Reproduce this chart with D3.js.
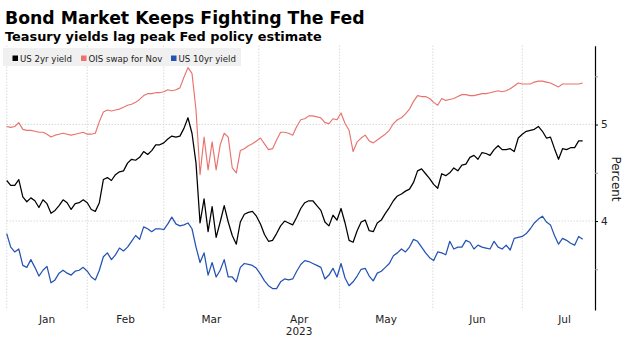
<!DOCTYPE html>
<html><head><meta charset="utf-8">
<script src="https://cdn.jsdelivr.net/npm/d3@7"></script>
<style>body{margin:0;background:#fff} svg{display:block}</style>
</head><body>
<svg id="chart" width="628" height="338"></svg>
<script>
// ---- data (one value per trading day, Jan 3 .. mid Jul 2023) ----
const us2y = [4.42,4.37,4.37,4.43,4.25,4.20,4.24,4.21,4.14,4.22,
4.18,4.08,4.11,4.16,4.22,4.19,4.12,4.18,4.19,4.22,
4.19,4.12,4.10,4.19,4.43,4.45,4.42,4.48,4.51,4.52,
4.60,4.64,4.63,4.66,4.72,4.69,4.73,4.79,4.79,4.81,
4.85,4.88,4.87,4.88,4.96,5.07,4.91,4.60,3.98,4.23,
3.89,4.15,3.83,3.99,4.16,3.99,3.85,3.76,3.99,4.07,
4.09,4.10,4.05,3.97,3.86,3.79,3.80,3.87,3.95,4.00,
3.98,3.96,4.04,4.13,4.19,4.21,4.21,4.16,4.11,3.99,
3.95,4.06,4.01,4.13,3.98,3.80,3.78,3.90,3.99,4.01,
3.90,3.89,3.98,4.01,4.08,4.14,4.21,4.26,4.28,4.31,
4.33,4.40,4.52,4.54,4.49,4.44,4.38,4.34,4.49,4.47,
4.50,4.55,4.52,4.58,4.59,4.66,4.68,4.64,4.71,4.70,
4.68,4.74,4.78,4.74,4.74,4.75,4.72,4.86,4.90,4.93,
4.94,4.95,4.98,4.93,4.86,4.87,4.75,4.64,4.75,4.74,
4.76,4.76,4.83,4.83];
const oisNov = [4.98,4.97,4.98,5.02,4.95,4.94,4.94,4.93,4.92,4.92,
4.90,4.87,4.89,4.90,4.91,4.90,4.89,4.90,4.91,4.92,
4.90,4.90,4.91,5.03,5.13,5.15,5.14,5.15,5.16,5.18,
5.20,5.21,5.23,5.26,5.30,5.32,5.32,5.33,5.33,5.34,
5.36,5.35,5.36,5.38,5.49,5.59,5.53,5.15,4.48,4.87,
4.53,4.82,4.53,4.79,4.91,4.87,4.55,4.50,4.73,4.75,
4.78,4.80,4.83,4.86,4.80,4.74,4.75,4.84,4.92,4.92,
4.91,4.89,4.98,5.05,5.06,5.09,5.09,5.08,5.07,5.02,
5.01,5.06,5.05,5.12,5.01,4.94,4.72,4.82,4.86,4.89,
4.83,4.81,4.84,4.87,4.90,4.94,5.01,5.05,5.07,5.11,
5.16,5.24,5.30,5.29,5.29,5.27,5.23,5.20,5.27,5.25,
5.26,5.27,5.29,5.31,5.31,5.30,5.30,5.31,5.32,5.32,
5.33,5.34,5.35,5.34,5.35,5.37,5.40,5.43,5.42,5.42,
5.42,5.44,5.45,5.45,5.44,5.43,5.41,5.39,5.42,5.42,
5.42,5.42,5.42,5.43];
const us10y = [3.87,3.73,3.68,3.71,3.54,3.52,3.60,3.52,3.43,3.49,
3.53,3.36,3.39,3.46,3.49,3.46,3.44,3.48,3.49,3.52,
3.48,3.42,3.39,3.49,3.63,3.67,3.60,3.65,3.72,3.69,
3.73,3.79,3.85,3.81,3.94,3.92,3.89,3.92,3.92,3.91,
3.97,4.04,3.97,3.95,3.96,3.98,3.92,3.73,3.57,3.67,
3.44,3.57,3.42,3.49,3.60,3.42,3.42,3.37,3.52,3.56,
3.55,3.54,3.51,3.45,3.38,3.33,3.30,3.30,3.37,3.40,
3.39,3.40,3.48,3.55,3.59,3.58,3.56,3.54,3.52,3.40,
3.44,3.51,3.42,3.56,3.41,3.33,3.37,3.43,3.50,3.51,
3.43,3.38,3.46,3.48,3.52,3.56,3.64,3.67,3.71,3.68,
3.73,3.81,3.79,3.73,3.67,3.62,3.59,3.68,3.67,3.65,
3.79,3.71,3.73,3.73,3.80,3.78,3.71,3.75,3.73,3.72,
3.71,3.79,3.73,3.71,3.75,3.70,3.82,3.83,3.84,3.87,
3.92,3.98,4.02,4.05,3.99,3.96,3.85,3.76,3.82,3.80,
3.77,3.75,3.84,3.81];
const monthNames = ["Jan","Feb","Mar","Apr","May","Jun","Jul"];
// trading-day index where each month begins (last entry = end of Jul)
const monthStartIdx = [0, 20, 39, 62.6, 82.6, 105.8, 128, 149];
const yearLabel = "2023";
const majorTicks = [4, 5];
const minorTicks = [3.5, 4.5, 5.5];
const seriesNames = ["US 2yr yield", "OIS swap for Nov", "US 10yr yield"];
const titleText = "Bond Market Keeps Fighting The Fed";
const subtitleText = "Teasury yields lag peak Fed policy estimate";
const axisTitle = "Percent";

// ---- drawing ----
const colors = ["#000000", "#e8736e", "#2453b5"];
const svg = d3.select("#chart");
const font = "'DejaVu Sans', Verdana, sans-serif";
const x = d3.scaleLinear().domain([0, us2y.length - 1]).range([6.7, 582.7]);
const y = d3.scaleLinear().domain([3.078, 5.817]).range([310, 45.7]);
const axisX = 595;

// gridlines
svg.append("g").selectAll("line").data(monthStartIdx.slice(0, -1)).join("line")
  .attr("x1", d => x(d)).attr("x2", d => x(d))
  .attr("y1", y.range()[1]).attr("y2", y.range()[0])
  .attr("stroke", "#c8c8c8").attr("stroke-width", 1).attr("stroke-dasharray", "1,2");
svg.append("g").selectAll("line").data(majorTicks).join("line")
  .attr("x1", x(0)).attr("x2", axisX)
  .attr("y1", d => y(d)).attr("y2", d => y(d))
  .attr("stroke", "#c8c8c8").attr("stroke-width", 1).attr("stroke-dasharray", "1,2");

// lines
const series = [us2y, oisNov, us10y];
const line = d3.line().x((d, i) => x(i)).y(d => y(d));
[1, 0, 2].forEach(k => {
  svg.append("path").datum(series[k])
    .attr("fill", "none").attr("stroke", colors[k])
    .attr("stroke-width", k === 1 ? 1.15 : 1.25)
    .attr("stroke-linejoin", "round")
    .attr("d", line);
});

// right axis
const ax = svg.append("g").attr("transform", `translate(${axisX},0)`)
  .call(d3.axisRight(y).tickValues(majorTicks).tickSize(3).tickSizeOuter(0).tickPadding(3).tickFormat(d3.format("d")));
ax.select(".domain").attr("stroke", "#000").attr("stroke-width", 1.2);
ax.selectAll("text").attr("font-family", font).attr("font-size", 10.5).attr("fill", "#222");
const axm = svg.append("g").attr("transform", `translate(${axisX},0)`)
  .call(d3.axisRight(y).tickValues(minorTicks).tickSize(3).tickFormat(""));
axm.select(".domain").remove();
axm.selectAll("line").attr("stroke", "#999");

svg.append("text").attr("transform", "translate(612,179) rotate(90)")
  .attr("text-anchor", "middle").attr("font-family", font).attr("font-size", 12)
  .attr("fill", "#222").text(axisTitle);

// month labels
svg.append("g").selectAll("text").data(monthNames).join("text")
  .attr("x", (d, i) => x((monthStartIdx[i] + monthStartIdx[i + 1]) / 2))
  .attr("y", 323).attr("text-anchor", "middle")
  .attr("font-family", font).attr("font-size", 10.5).attr("fill", "#222").text(d => d);
svg.append("text").attr("x", x((monthStartIdx[3] + monthStartIdx[4]) / 2)).attr("y", 335)
  .attr("text-anchor", "middle").attr("font-family", font).attr("font-size", 10.5)
  .attr("fill", "#222").text(yearLabel);

// titles
svg.append("text").attr("x", 5).attr("y", 24).attr("font-family", font)
  .attr("font-weight", "bold").attr("font-size", 17.3).attr("fill", "#000").text(titleText);
svg.append("text").attr("x", 5).attr("y", 40.5).attr("font-family", font)
  .attr("font-weight", "bold").attr("font-size", 12.9).attr("fill", "#000").text(subtitleText);

// legend
svg.append("rect").attr("x", 3).attr("y", 48).attr("width", 238).attr("height", 18).attr("fill", "#f0f0f0");
const legX = [12.5, 81, 171];
seriesNames.forEach((name, k) => {
  svg.append("rect").attr("x", legX[k]).attr("y", 55.5).attr("width", 5.5).attr("height", 5.5).attr("fill", colors[k]);
  svg.append("text").attr("x", legX[k] + 7.5).attr("y", 61.5).attr("font-family", font)
    .attr("font-size", 8.6).attr("fill", "#222").text(name);
});
</script>
</body></html>
